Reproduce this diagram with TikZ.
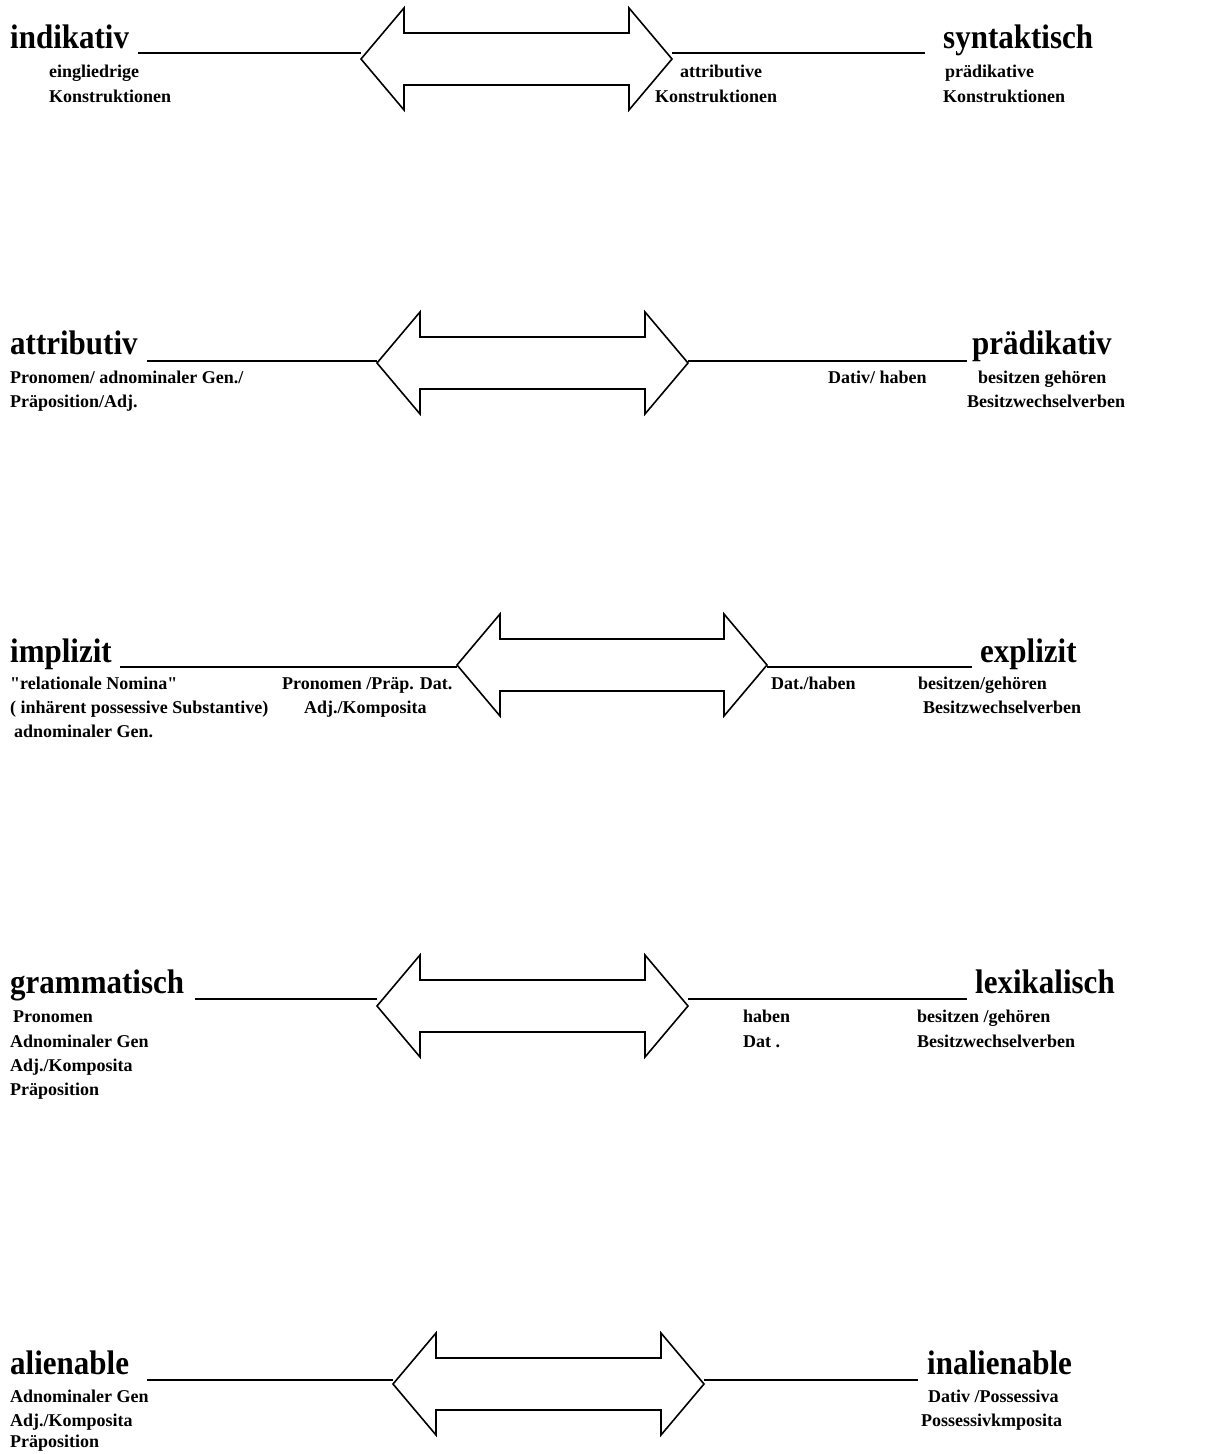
\documentclass[tikz,border=0pt]{standalone}
\usepackage{graphicx}
\usepackage{fontspec}
\newfontfamily\plainserif{Liberation Serif}
\newcommand\titlef{\fontsize{31}{36}\plainserif\bfseries}
\newcommand\smallf{\fontsize{18}{22}\plainserif\bfseries}
\newcommand\tall[1]{\scalebox{1}[1.1]{#1}}
\tikzset{
  ttl/.style={anchor=base west, inner sep=0pt, font=\titlef},
  sml/.style={anchor=base west, inner sep=0pt, font=\smallf},
  arrowshape/.style={draw=black, line width=1.6pt, line join=miter, fill=white},
  uline/.style={draw=black, line width=1.4pt},
}
% #1 name, #2 left tip x, #3 right tip x, #4 centre y
\newcommand\dblarr[4]{%
  \coordinate (#1L) at (#2,#4);
  \coordinate (#1R) at (#3,#4);
  \draw[arrowshape] (#1L) -- (#2+43,#4-51) -- (#2+43,#4-26) -- (#3-43,#4-26)
    -- (#3-43,#4-51) -- (#1R) -- (#3-43,#4+51) -- (#3-43,#4+26)
    -- (#2+43,#4+26) -- (#2+43,#4+51) -- cycle;}
\begin{document}
\begin{tikzpicture}[x=1pt,y=-1pt]
\useasboundingbox (0,0) rectangle (1229,1454);

% ---------- row 1
\node[ttl] (t1l) at (10,48) {\tall{indikativ}};
\node[ttl] (t1r) at (943,48) {\tall{syntaktisch}};
\coordinate (u1a) at (138,53); \coordinate (u1b) at (361,53);
\coordinate (u1c) at (672,53); \coordinate (u1d) at (925,53);
\draw[uline] (u1a) -- (u1b);
\draw[uline] (u1c) -- (u1d);
\dblarr{a1}{361}{672}{59}
\node[sml] (s1a) at (49,77) {eingliedrige};
\node[sml] (s1b) at (49,102) {Konstruktionen};
\node[sml] (s1c) at (680,77) {attributive};
\node[sml] (s1d) at (655,102) {Konstruktionen};
\node[sml] (s1e) at (945,77) {prädikative};
\node[sml] (s1f) at (943,102) {Konstruktionen};

% ---------- row 2
\node[ttl] (t2l) at (10,354) {\tall{attributiv}};
\node[ttl] (t2r) at (972,354) {\tall{prädikativ}};
\coordinate (u2a) at (147,361); \coordinate (u2b) at (377,361);
\coordinate (u2c) at (688,361); \coordinate (u2d) at (967,361);
\draw[uline] (u2a) -- (u2b);
\draw[uline] (u2c) -- (u2d);
\dblarr{a2}{377}{688}{363}
\node[sml] (s2a) at (10,383) {Pronomen/ adnominaler Gen./};
\node[sml] (s2b) at (10,407) {Präposition/Adj.};
\node[sml] (s2c) at (828,383) {Dativ/ haben};
\node[sml] (s2d) at (978,383) {besitzen gehören};
\node[sml] (s2e) at (967,407) {Besitzwechselverben};

% ---------- row 3
\node[ttl] (t3l) at (10,662) {\tall{implizit}};
\node[ttl] (t3r) at (980,662) {\tall{explizit}};
\coordinate (u3a) at (120,667); \coordinate (u3b) at (457,667);
\coordinate (u3c) at (767,667); \coordinate (u3d) at (972,667);
\draw[uline] (u3a) -- (u3b);
\draw[uline] (u3c) -- (u3d);
\dblarr{a3}{457}{767}{665}
\node[sml] (s3a) at (10,689) {"relationale Nomina"};
\node[sml] (s3b) at (10,713) {( inhärent possessive Substantive)};
\node[sml] (s3c) at (14,737) {adnominaler Gen.};
\node[sml] (s3d) at (282,689) {Pronomen /Präp. Dat.};
\node[sml] (s3e) at (304,713) {Adj./Komposita};
\node[sml] (s3f) at (771,689) {Dat./haben};
\node[sml] (s3g) at (918,689) {besitzen/gehören};
\node[sml] (s3h) at (923,713) {Besitzwechselverben};

% ---------- row 4
\node[ttl] (t4l) at (10,993) {\tall{grammatisch}};
\node[ttl] (t4r) at (975,993) {\tall{lexikalisch}};
\coordinate (u4a) at (195,999); \coordinate (u4b) at (377,999);
\coordinate (u4c) at (688,999); \coordinate (u4d) at (967,999);
\draw[uline] (u4a) -- (u4b);
\draw[uline] (u4c) -- (u4d);
\dblarr{a4}{377}{688}{1006}
\node[sml] (s4a) at (13,1022) {Pronomen};
\node[sml] (s4b) at (10,1047) {Adnominaler Gen};
\node[sml] (s4c) at (10,1071) {Adj./Komposita};
\node[sml] (s4d) at (10,1095) {Präposition};
\node[sml] (s4e) at (743,1022) {haben};
\node[sml] (s4f) at (743,1047) {Dat .};
\node[sml] (s4g) at (917,1022) {besitzen /gehören};
\node[sml] (s4h) at (917,1047) {Besitzwechselverben};

% ---------- row 5
\node[ttl] (t5l) at (10,1374) {\tall{alienable}};
\node[ttl] (t5r) at (927,1374) {\tall{inalienable}};
\coordinate (u5a) at (147,1380); \coordinate (u5b) at (393,1380);
\coordinate (u5c) at (704,1380); \coordinate (u5d) at (918,1380);
\draw[uline] (u5a) -- (u5b);
\draw[uline] (u5c) -- (u5d);
\dblarr{a5}{393}{704}{1384}
\node[sml] (s5a) at (10,1402) {Adnominaler Gen};
\node[sml] (s5b) at (10,1426) {Adj./Komposita};
\node[sml] (s5c) at (10,1447) {Präposition};
\node[sml] (s5d) at (928,1402) {Dativ /Possessiva};
\node[sml] (s5e) at (921,1426) {Possessivkmposita};
\end{tikzpicture}
\end{document}
